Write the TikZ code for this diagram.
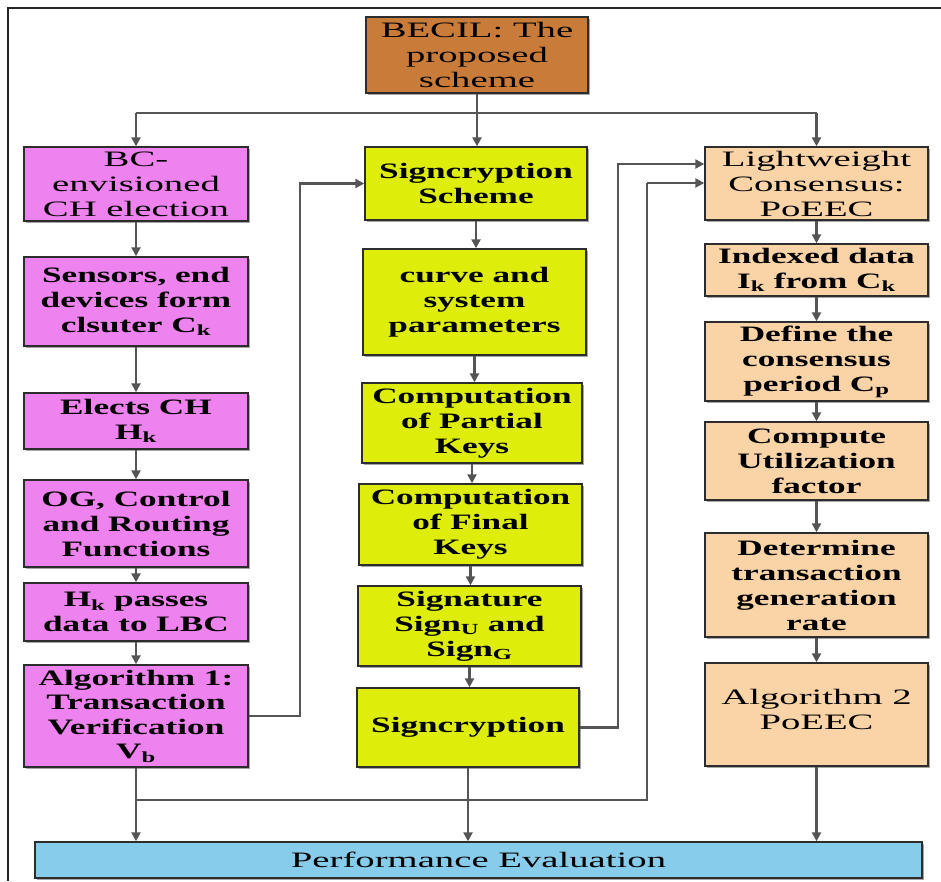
\documentclass[tikz,border=0pt]{standalone}
\usepackage{fontspec}
\setmainfont[FakeStretch=1.76]{Liberation Serif}
\newfontfamily\heavyserif[FakeStretch=1.6]{Liberation Serif}
\usetikzlibrary{arrows.meta,shadows}

\definecolor{becilfill}{RGB}{201,124,58}
\definecolor{clusterfill}{RGB}{238,130,238}
\definecolor{cryptfill}{RGB}{222,238,10}
\definecolor{consfill}{RGB}{250,211,166}
\definecolor{evalfill}{RGB}{135,205,235}
\definecolor{boxline}{RGB}{45,45,45}
\definecolor{flowgray}{RGB}{85,85,85}

\tikzset{
  box/.style={draw=boxline, line width=1.4pt, align=center, inner sep=0pt,
    drop shadow={shadow xshift=2pt, shadow yshift=-2pt, fill=black, opacity=0.35},
    font=\fontsize{22}{25}\selectfont},
  heavybox/.style={box, font=\heavyserif\bfseries\fontsize{22}{25}\selectfont},
  flow/.style={draw=flowgray, line width=2.4pt, -{Triangle[length=9pt,width=9pt]}},
  link/.style={draw=flowgray, line width=2.4pt},
  frameline/.style={draw=black!85, line width=2pt},
}

\begin{document}
\begin{tikzpicture}[x=1pt,y=-1pt]
\useasboundingbox (0,0) rectangle (941,881);

% outer frame
\coordinate (fbl) at (8,881);
\coordinate (ftl) at (8,8);
\coordinate (ftr) at (941,8);
\draw[frameline] (fbl) -- (ftl) -- (ftr);

% root
\node[box, fill=becilfill, minimum width=222pt, minimum height=76pt] (becil) at (477,55)
  {BECIL: The\\proposed\\scheme};

% left column: clustering
\node[box, fill=clusterfill, minimum width=224pt, minimum height=74pt] (n1) at (136,184)
  {BC-\\envisioned\\CH election};
\node[heavybox, fill=clusterfill, minimum width=224pt, minimum height=89pt] (n2) at (136,301.5)
  {Sensors, end\\devices form\\clsuter C\textsubscript{k}};
\node[heavybox, fill=clusterfill, minimum width=224pt, minimum height=56pt] (n3) at (136,421)
  {Elects CH\\H\textsubscript{k}};
\node[heavybox, fill=clusterfill, minimum width=224pt, minimum height=87pt] (n4) at (136,523.5)
  {OG, Control\\and Routing\\Functions};
\node[heavybox, fill=clusterfill, minimum width=224pt, minimum height=58pt] (n5) at (136,612)
  {H\textsubscript{k} passes\\data to LBC};
\node[heavybox, fill=clusterfill, minimum width=224pt, minimum height=102pt,
  font=\heavyserif\bfseries\fontsize{22}{24.5}\selectfont] (n6) at (136,716)
  {Algorithm 1:\\Transaction\\Verification\\V\textsubscript{b}};

% middle column: signcryption
\node[heavybox, fill=cryptfill, minimum width=222pt, minimum height=73pt] (s1) at (476,183.5)
  {Signcryption\\Scheme};
\node[heavybox, fill=cryptfill, minimum width=223pt, minimum height=106pt] (s2) at (474.5,302)
  {curve and\\system\\parameters};
\node[heavybox, fill=cryptfill, minimum width=220pt, minimum height=80pt] (s3) at (472,423)
  {Computation\\of Partial\\Keys};
\node[heavybox, fill=cryptfill, minimum width=223pt, minimum height=81pt] (s4) at (470.5,524.5)
  {Computation\\of Final\\Keys};
\node[heavybox, fill=cryptfill, minimum width=223pt, minimum height=80pt] (s5) at (469.5,626)
  {Signature\\Sign\textsubscript{U} and\\Sign\textsubscript{G}};
\node[heavybox, fill=cryptfill, minimum width=222pt, minimum height=79pt] (s6) at (468,727.5)
  {Signcryption};

% right column: consensus
\node[box, fill=consfill, minimum width=223pt, minimum height=73pt] (l1) at (816.5,183.5)
  {Lightweight\\Consensus:\\PoEEC};
\node[heavybox, fill=consfill, minimum width=223pt, minimum height=52pt] (l2) at (816.5,270)
  {Indexed data\\I\textsubscript{k} from C\textsubscript{k}};
\node[heavybox, fill=consfill, minimum width=223pt, minimum height=79pt] (l3) at (816.5,361.5)
  {Define the\\consensus\\period C\textsubscript{p}};
\node[heavybox, fill=consfill, minimum width=223pt, minimum height=78pt] (l4) at (816.5,461)
  {Compute\\Utilization\\factor};
\node[heavybox, fill=consfill, minimum width=223pt, minimum height=104pt] (l5) at (816.5,585)
  {Determine\\transaction\\generation\\rate};
\node[box, fill=consfill, minimum width=223pt, minimum height=103pt, text depth=10pt] (l6) at (816.5,714.5)
  {Algorithm 2\\PoEEC};

% evaluation bar
\node[box, fill=evalfill, minimum width=887pt, minimum height=36pt] (perf) at (478.5,860)
  {Performance Evaluation};

% distribution from the root
\coordinate (bus) at (0,113);
\draw[link] (n1.north |- bus) -- (l1.north |- bus);
\draw[flow] (becil.south) -- (becil.south |- s1.north);
\draw[flow] (n1.north |- bus) -- (n1.north);
\draw[flow] (l1.north |- bus) -- (l1.north);

% column chains
\foreach \a/\b in {n1/n2,n2/n3,n3/n4,n4/n5,n5/n6,l1/l2,l2/l3,l3/l4,l4/l5,l5/l6}
  \draw[flow] (\a.south) -- (\b.north);
\foreach \a/\b in {s1/s2,s2/s3,s3/s4,s4/s5,s5/s6}
  \draw[flow] (\a.south) -- (\a.south |- \b.north);

% cross links
\coordinate (j1) at (300,183.5);
\draw[flow] (n6.east) -| (j1) -- (s1.west);
\coordinate (j2) at (618,164);
\draw[flow] (s6.east) -| (j2) -- (j2 -| l1.west);
\coordinate (tap) at (0,800);
\coordinate (j3) at (647,183);
\draw[link] (n6.south |- tap) -| (j3);
\draw[flow] (j3) -- (j3 -| l1.west);

% into the evaluation bar
\draw[flow] (n6.south) -- (n6.south |- perf.north);
\draw[flow] (s6.south) -- (s6.south |- perf.north);
\draw[flow] (l6.south) -- (l6.south |- perf.north);
\end{tikzpicture}
\end{document}
